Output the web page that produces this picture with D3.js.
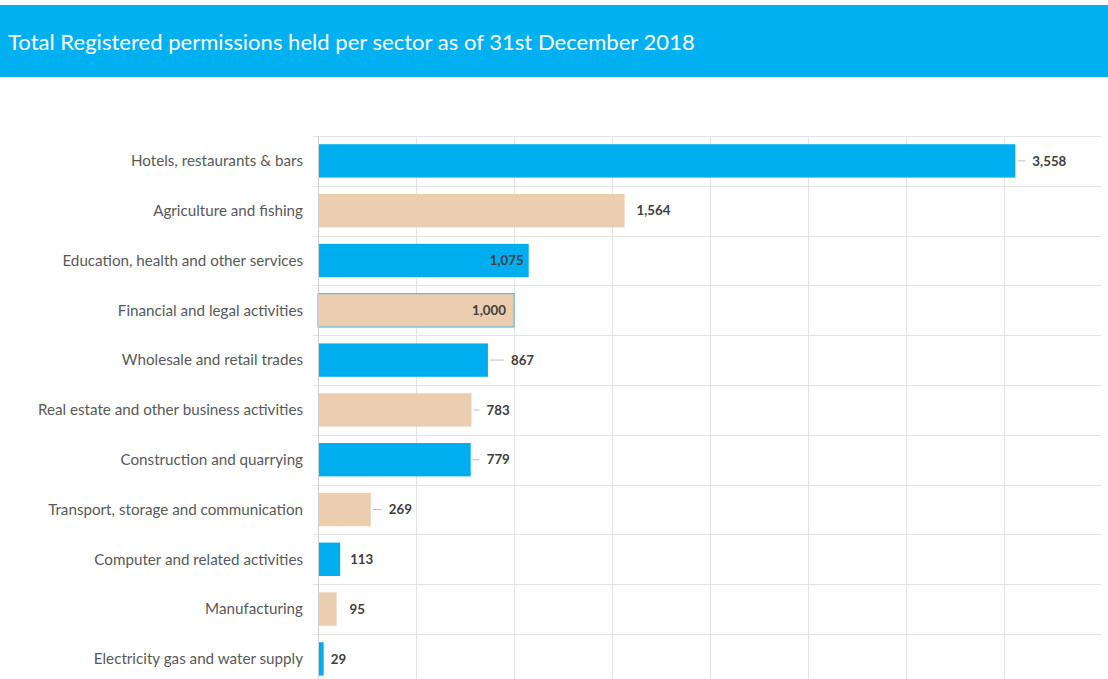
<!DOCTYPE html>
<html>
<head>
<meta charset="utf-8">
<script src="https://cdn.jsdelivr.net/npm/d3@7"></script>
<style>
  html, body { margin: 0; padding: 0; background: #ffffff; }
  svg { display: block; }
</style>
</head>
<body>
<svg id="chart" width="1108" height="679"></svg>
<script>
// Registered permissions per sector, 31 December 2018
const sectors = [
  "Hotels, restaurants & bars",
  "Agriculture and fishing",
  "Education, health and other services",
  "Financial and legal activities",
  "Wholesale and retail trades",
  "Real estate and other business activities",
  "Construction and quarrying",
  "Transport, storage and communication",
  "Computer and related activities",
  "Manufacturing",
  "Electricity gas and water supply"
];
const permissions = [3558, 1564, 1075, 1000, 867, 783, 779, 269, 113, 95, 29];
const xTicks = [0, 500, 1000, 1500, 2000, 2500, 3000, 3500];
const titleText = "Total Registered permissions held per sector as of 31st December 2018";

// Label placement (pixels from bar end; negative = inside the bar, right-aligned)
const labelOffset = [17, 12, -5, -8, 23, 15, 16, 18, 10, 13, 7];
const leaderLine  = [true, false, false, false, true, true, true, true, false, false, false];

const BLUE = "#00aeef";
const TAN = "#ebcdb0";
const GRID = "#e3e3e3";

const svg = d3.select("#chart");
const W = 1108, H = 679;

// Title band
svg.append("rect").attr("x", 0).attr("y", 5).attr("width", W).attr("height", 72).attr("fill", "#00b0f0");
const title = svg.append("text")
  .attr("x", 8).attr("y", 50)
  .attr("fill", "#ffffff")
  .style("font-family", "Lato, 'Open Sans', sans-serif")
  .style("font-size", "20px")
  .text(titleText);
// fit the title to its line length
const tw = title.node().getComputedTextLength();
title.style("font-size", (20 * 687 / tw).toFixed(2) + "px");

const plotLeft = 318, plotRight = 1102, plotTop = 136, rowStep = 49.8;
const x = d3.scaleLinear().domain([0, 4000]).range([plotLeft, plotRight]);
const y = d3.scaleBand().domain(sectors)
  .range([plotTop, plotTop + rowStep * sectors.length])
  .paddingInner(0.33).paddingOuter(0.165);

// Vertical gridlines
svg.append("g").selectAll("line").data(xTicks).join("line")
  .attr("x1", d => Math.round(x(d)) + 0.5).attr("x2", d => Math.round(x(d)) + 0.5)
  .attr("y1", plotTop).attr("y2", H)
  .attr("stroke", GRID).attr("stroke-width", 1);

// Horizontal row separators
const bounds = d3.range(sectors.length + 1).map(i => plotTop + i * rowStep);
svg.append("g").selectAll("line").data(bounds).join("line")
  .attr("x1", plotLeft - 5).attr("x2", plotRight - 1)
  .attr("y1", d => Math.round(d) + 0.5).attr("y2", d => Math.round(d) + 0.5)
  .attr("stroke", GRID).attr("stroke-width", 1);

// Bars
const rows = sectors.map((s, i) => ({ s, v: permissions[i], i }));
svg.append("g").selectAll("rect").data(rows).join("rect")
  .attr("x", x(0))
  .attr("y", d => y(d.s))
  .attr("width", d => x(d.v) - x(0))
  .attr("height", y.bandwidth())
  .attr("fill", d => d.i % 2 === 0 ? BLUE : TAN)
  .attr("stroke", d => d.v === 1000 ? "#5bbde0" : "none")
  .attr("stroke-width", 1.2);

// Category labels
svg.append("g").selectAll("text").data(rows).join("text")
  .attr("x", 303)
  .attr("y", d => y(d.s) + y.bandwidth() / 2)
  .attr("dy", "0.35em")
  .attr("text-anchor", "end")
  .attr("fill", "#595959")
  .style("font-family", "Lato, 'Open Sans', sans-serif")
  .style("font-size", "15.2px")
  .text(d => d.s);

// Leader lines
svg.append("g").selectAll("line").data(rows.filter(d => leaderLine[d.i])).join("line")
  .attr("x1", d => x(d.v) + 2)
  .attr("x2", d => x(d.v) + labelOffset[d.i] - 7)
  .attr("y1", d => y(d.s) + y.bandwidth() / 2)
  .attr("y2", d => y(d.s) + y.bandwidth() / 2)
  .attr("stroke", "#bfbfbf").attr("stroke-width", 1);

// Value labels
const fmt = d3.format(",");
svg.append("g").selectAll("text").data(rows).join("text")
  .attr("x", d => x(d.v) + labelOffset[d.i])
  .attr("y", d => y(d.s) + y.bandwidth() / 2)
  .attr("dy", "0.35em")
  .attr("text-anchor", d => labelOffset[d.i] < 0 ? "end" : "start")
  .attr("fill", "#404040")
  .style("font-family", "Lato, 'Open Sans', sans-serif")
  .style("font-weight", "bold")
  .style("font-size", "13.3px")
  .text(d => fmt(d.v));

// Axis line
svg.append("line")
  .attr("x1", plotLeft + 0.5).attr("x2", plotLeft + 0.5)
  .attr("y1", plotTop).attr("y2", H)
  .attr("stroke", "#d0d0d0").attr("stroke-width", 1);
</script>
</body>
</html>
